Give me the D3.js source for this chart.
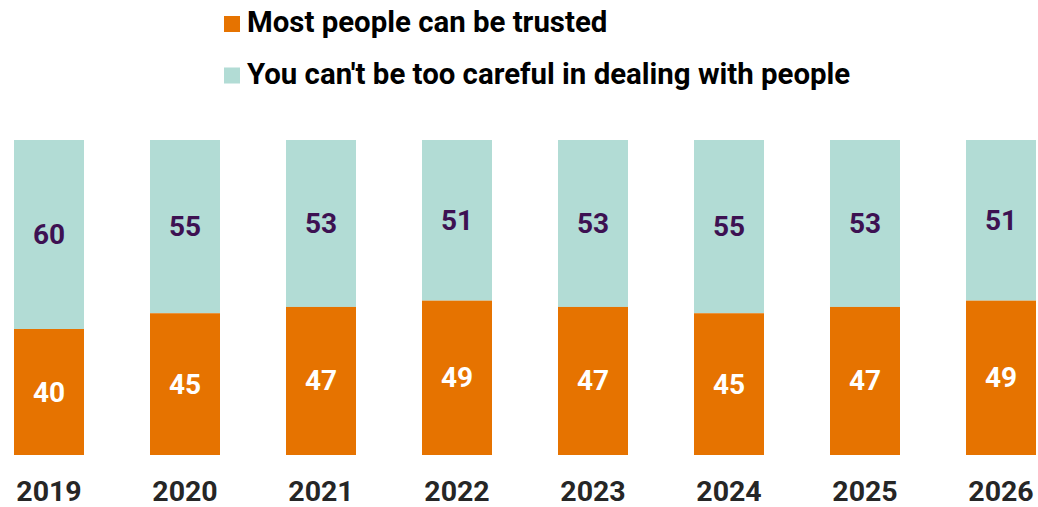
<!DOCTYPE html>
<html><head><meta charset="utf-8">
<script src="https://cdn.jsdelivr.net/npm/d3@7"></script>
<style>body{margin:0;background:#fff}svg{display:block}text{font-family:Roboto,sans-serif}</style>
</head><body><svg id="c" width="1038" height="507"></svg>
<script>
const years = ["2019","2020","2021","2022","2023","2024","2025","2026"];
const trusted = [40,45,47,49,47,45,47,49];
const careful = [60,55,53,51,53,55,53,51];
const seriesNames = ["Most people can be trusted","You can't be too careful in dealing with people"];
const colors = ["#e67300","#b2dcd5"];

const svg = d3.select("#c");
const x = d3.scaleBand().domain(years).range([14,1036]).paddingInner(66/136).paddingOuter(0);
const y = d3.scaleLinear().domain([0,100]).range([455,140]);

const data = years.map((yr,i)=>({yr, a:trusted[i], b:careful[i]}));

const g = svg.append("g");
data.forEach(d=>{
  g.append("rect").attr("x",x(d.yr)).attr("width",x.bandwidth())
   .attr("y",y(d.a+d.b)).attr("height",y(d.a)-y(d.a+d.b)).attr("fill",colors[1]);
  g.append("rect").attr("x",x(d.yr)).attr("width",x.bandwidth())
   .attr("y",y(d.a)).attr("height",y(0)-y(d.a)).attr("fill",colors[0]);
  g.append("text").attr("x",x(d.yr)+x.bandwidth()/2).attr("y",(y(0)+y(d.a))/2)
   .attr("text-anchor","middle").attr("dominant-baseline","central")
   .attr("font-size",28).attr("font-weight",700).attr("fill","#ffffff").text(d.a);
  g.append("text").attr("x",x(d.yr)+x.bandwidth()/2).attr("y",(y(d.a)+y(d.a+d.b))/2)
   .attr("text-anchor","middle").attr("dominant-baseline","central")
   .attr("font-size",28).attr("font-weight",700).attr("fill","#3d1152").text(d.b);
});

const xAxis = svg.append("g").attr("transform","translate(0,491.5)")
  .call(d3.axisBottom(x).tickSize(0).tickPadding(0));
xAxis.select(".domain").remove();
xAxis.selectAll("text").attr("font-size",28.5).attr("font-weight",700)
  .attr("fill","#262626").attr("font-family","Roboto,sans-serif")
  .attr("dy",null).attr("dominant-baseline","central");

const leg = svg.append("g");
seriesNames.forEach((n,i)=>{
  const yy = 22 + i*51.5;
  leg.append("rect").attr("x",224).attr("y",yy-6).attr("width",16).attr("height",16).attr("fill",colors[i]);
  leg.append("text").attr("x",247).attr("y",yy).attr("dominant-baseline","central")
    .attr("font-size",29.4).attr("font-weight",700).attr("fill","#000").text(n);
});
</script></body></html>
